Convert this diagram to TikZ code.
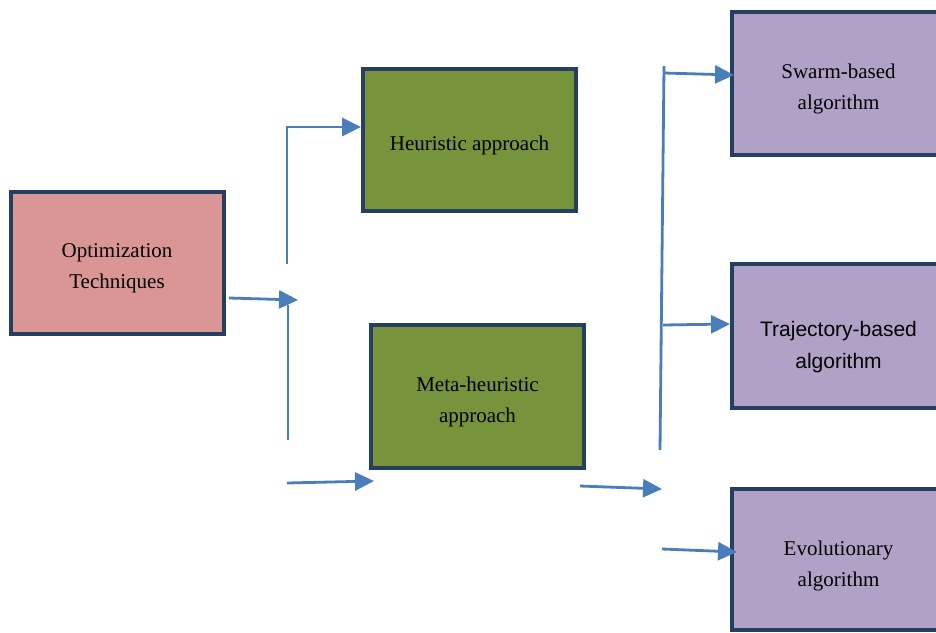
\documentclass[tikz,border=0pt]{standalone}
\usepackage{fontspec}
\setmainfont{Liberation Serif}
\newfontfamily\arialfont{Liberation Sans}
\usetikzlibrary{arrows.meta}
\definecolor{boxline}{HTML}{243F60}
\definecolor{pinkfill}{HTML}{D99694}
\definecolor{greenfill}{HTML}{77933C}
\definecolor{purplefill}{HTML}{B2A1C7}
\definecolor{arrowblue}{HTML}{4A7EBB}
\begin{document}
\begin{tikzpicture}[x=1pt,y=-1pt,
  box/.style={draw=boxline, line width=4pt, minimum width=213pt, minimum height=142pt,
    inner sep=0pt},
  boxtext/.style={align=center, font=\fontsize{21}{31}\selectfont, text=black, yshift=-5pt, inner sep=0pt},
  conn/.style={draw=arrowblue, line width=2.8pt},
  arr/.style={conn, -{Triangle[length=19pt,width=18pt]}}]
\useasboundingbox (0,0) rectangle (936,632);
\clip (0,0) rectangle (936,632);
\fill[white] (0,0) rectangle (936,632);
% boxes
\node[box, fill=pinkfill, label={[boxtext]center:Optimization\\Techniques}] (opt) at (117,263) {};
\node[box, fill=greenfill, label={[boxtext]center:Heuristic approach}] (heur) at (469.5,140) {};
\node[box, fill=greenfill, minimum height=143pt, label={[boxtext]center:Meta-heuristic\\approach}] (meta) at (477.5,396.5) {};
\node[box, fill=purplefill, minimum height=143pt, label={[boxtext]center:Swarm-based\\algorithm}] (swarm) at (838.5,83.5) {};
\node[box, fill=purplefill, minimum height=144pt, label={[boxtext, yshift=-6pt, font=\arialfont\fontsize{21}{32}\selectfont]center:Trajectory-based\\algorithm}] (traj) at (838.5,336) {};
\node[box, fill=purplefill, minimum height=141pt, label={[boxtext, yshift=-1pt]center:Evolutionary\\algorithm}] (evo) at (838.5,559.5) {};
% coordinates
\coordinate (o1) at (229,298);
\coordinate (o2) at (298,300);
\coordinate (u1) at (287,264);
\coordinate (u2) at (287,127);
\coordinate (h1) at (361,127);
\coordinate (d1) at (288,305);
\coordinate (d2) at (288,440);
\coordinate (m0) at (287,483);
\coordinate (m1) at (374,481);
\coordinate (e0) at (580,486);
\coordinate (e1) at (662,489);
\coordinate (v1) at (664,66);
\coordinate (v2) at (660,450);
\coordinate (s0) at (664,73);
\coordinate (s1) at (734,75);
\coordinate (t0) at (663,325);
\coordinate (t1) at (730,324);
\coordinate (r0) at (662,549);
\coordinate (r1) at (737,552);
% connectors
\draw[arr] (o1) -- (o2);
\draw[arr] (u1) -- (u2) -- (h1);
\draw[conn] (d1) -- (d2);
\draw[arr] (m0) -- (m1);
\draw[arr] (e0) -- (e1);
\draw[conn] (v1) -- (v2);
\draw[arr] (s0) -- (s1);
\draw[arr] (t0) -- (t1);
\draw[arr] (r0) -- (r1);
\end{tikzpicture}
\end{document}
